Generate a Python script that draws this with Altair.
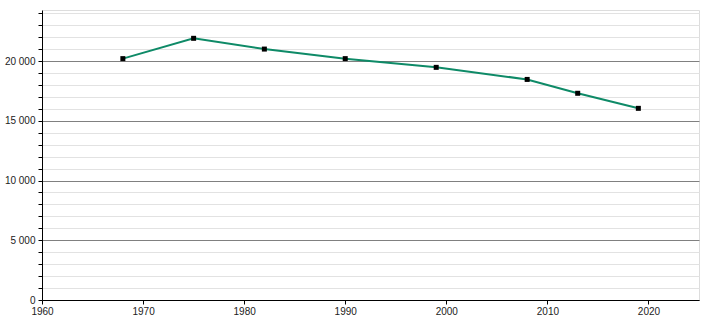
import altair as alt
import pandas as pd

years = [1968, 1975, 1982, 1990, 1999, 2008, 2013, 2019]
population = [20200, 21900, 21000, 20200, 19470, 18460, 17300, 16040]

y_ticks = list(range(0, 25000, 1000))
x_ticks = list(range(1960, 2030, 10))

df = pd.DataFrame({"year": years, "pop": population})

x = alt.X("year:Q",
          scale=alt.Scale(domain=[1960, 2025], nice=False, zero=False),
          axis=alt.Axis(values=x_ticks, format="d", title=None, grid=False,
                        domainColor="black", tickColor="black", tickSize=4,
                        labelFont="Liberation Sans", labelFontSize=10,
                        labelColor="#222", labelPadding=2, labelFlush=False))
y = alt.Y("pop:Q",
          scale=alt.Scale(domain=[0, 24270], nice=False),
          axis=alt.Axis(values=y_ticks, title=None, grid=True,
                        gridColor={"condition": {"test": "datum.value % 5000 === 0", "value": "#808080"}, "value": "#e2e2e2"},
                        gridWidth=1,
                        labelExpr="datum.value % 5000 === 0 ? replace(format(datum.value, ','), ',', ' ') : ''",
                        domainColor="black", tickColor="black", tickSize=4,
                        labelFont="Liberation Sans", labelFontSize=10,
                        labelColor="#222", labelPadding=3, labelOverlap=False,
                        labelFlush=False))

line = alt.Chart(df).mark_line(color="#0e8a67", strokeWidth=2).encode(x=x, y=y)
pts = alt.Chart(df).mark_square(color="black", size=25, opacity=1).encode(x=x, y=y)

chart = (line + pts).properties(
    width=657, height=290,
    autosize=alt.AutoSizeParams(type="none"),
    padding={"left": 42, "top": 10, "right": 11, "bottom": 20},
).configure_view(stroke=None).configure(background="white")

chart.save("out.html", embed_options={"renderer": "svg", "actions": False})
